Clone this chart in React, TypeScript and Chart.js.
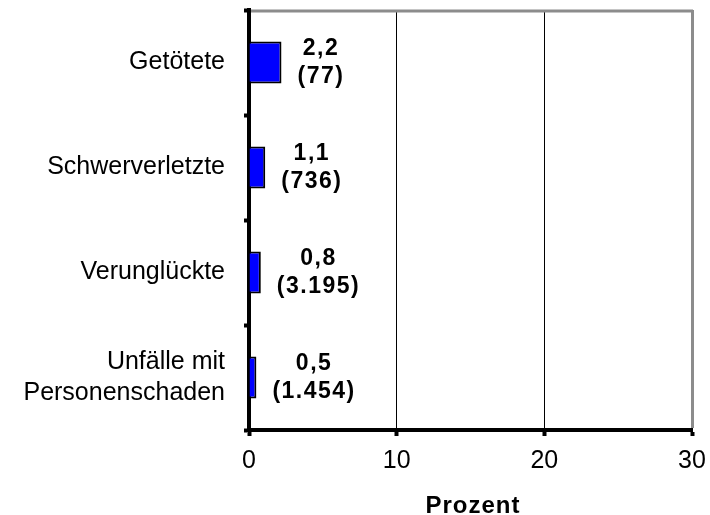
import React, { useEffect, useRef } from 'react';
import { Chart, registerables } from 'chart.js';

Chart.register(...registerables);

const categories: (string | string[])[] = ['Getötete', 'Schwerverletzte', 'Verunglückte', ['Unfälle mit', 'Personenschaden']];
const percentValues = [2.2, 1.1, 0.8, 0.5];
const countLabels = ['77', '736', '3.195', '1.454'];
const xAxisTitle = 'Prozent';
const xMin = 0;
const xMax = 30;
const xStep = 10;

const FONT = "'Liberation Sans', Arial, Helvetica, sans-serif";

export default function App() {
  const ref = useRef<HTMLCanvasElement>(null);

  useEffect(() => {
    document.body.style.margin = '0';
    const canvas = ref.current;
    if (!canvas) return;

    const valueLabelPlugin = {
      id: 'valueLabels',
      afterDatasetsDraw(chart: any) {
        const ctx = chart.ctx as CanvasRenderingContext2D;
        const meta = chart.getDatasetMeta(0);
        const ls = 1.5;
        ctx.save();
        ctx.font = `bold 23px ${FONT}`;
        ctx.fillStyle = '#000';
        ctx.textAlign = 'left';
        ctx.textBaseline = 'middle';
        (ctx as any).letterSpacing = ls + 'px';
        meta.data.forEach((bar: any, i: number) => {
          const lines = [percentValues[i].toFixed(1).replace('.', ','), '(' + countLabels[i] + ')'];
          const widths = lines.map((t) => ctx.measureText(t).width - ls);
          const maxW = Math.max(...widths);
          const left = bar.x + 16;
          lines.forEach((t, j) => {
            ctx.fillText(t, left + (maxW - widths[j]) / 2, bar.y + (j === 0 ? -14 : 14));
          });
        });
        ctx.restore();
      },
    };

    const framePlugin = {
      id: 'frame',
      afterDraw(chart: any) {
        const ctx = chart.ctx as CanvasRenderingContext2D;
        const a = chart.chartArea;
        ctx.save();
        ctx.strokeStyle = '#8c8c8c';
        ctx.lineWidth = 3;
        ctx.beginPath();
        ctx.moveTo(a.left + 2, a.top + 1);
        ctx.lineTo(a.right + 1, a.top + 1);
        ctx.stroke();
        // title
        const ls = 1;
        ctx.font = `bold 24px ${FONT}`;
        (ctx as any).letterSpacing = ls + 'px';
        ctx.fillStyle = '#000';
        ctx.textAlign = 'left';
        ctx.textBaseline = 'alphabetic';
        const w = ctx.measureText(xAxisTitle).width - ls;
        ctx.fillText(xAxisTitle, (a.left + a.right) / 2 - w / 2 + 2, 512.5);
        ctx.restore();
      },
    };

    const chart = new Chart(canvas, {
      type: 'bar',
      data: {
        labels: categories as any,
        datasets: [
          {
            data: percentValues,
            backgroundColor: '#0000ff',
            borderColor: '#000000',
            borderWidth: 2,
            barPercentage: 0.4,
            categoryPercentage: 1,
          },
        ],
      },
      options: {
        indexAxis: 'y',
        animation: false,
        responsive: false,
        maintainAspectRatio: false,
        layout: { padding: { top: 10, right: 18, left: 0, bottom: 0 } },
        plugins: {
          legend: { display: false },
          tooltip: { enabled: false },
          title: { display: false },
        },
        scales: {
          x: {
            type: 'linear',
            min: xMin,
            max: xMax,
            ticks: {
              stepSize: xStep,
              color: '#000',
              padding: 10,
              font: { family: FONT, size: 25, lineHeight: 1.2 },
            },
            grid: {
              color: (c: any) => (c.index === 0 ? 'rgba(0,0,0,0)' : c.index === 3 ? '#8c8c8c' : '#000'),
              lineWidth: (c: any) => (c.index === 3 ? 3 : 1),
              drawTicks: true,
              tickLength: 6,
              tickWidth: 4,
              tickColor: '#000',
            },
            border: { display: true, width: 4, color: '#000' },
            afterFit: (scale: any) => {
              scale.height = 85;
              scale.paddingLeft = 0;
              scale.paddingRight = 0;
            },
          },
          y: {
            type: 'category',
            ticks: {
              color: '#000',
              padding: 19,
              font: { family: FONT, size: 25, lineHeight: 1.26 },
            },
            grid: {
              offset: true,
              drawOnChartArea: false,
              drawTicks: true,
              tickLength: 5,
              tickWidth: 4,
              tickColor: '#000',
            },
            border: { display: true, width: 4, color: '#000' },
            afterFit: (scale: any) => {
              scale.width = 249;
              scale.paddingTop = 0;
              scale.paddingBottom = 0;
            },
          },
        },
      },
      plugins: [valueLabelPlugin, framePlugin],
    });

    return () => {
      chart.destroy();
    };
  }, []);

  return (
    <div style={{ width: 710, height: 515, background: '#fff' }}>
      <canvas ref={ref} width={710} height={515} style={{ display: 'block' }} />
    </div>
  );
}
